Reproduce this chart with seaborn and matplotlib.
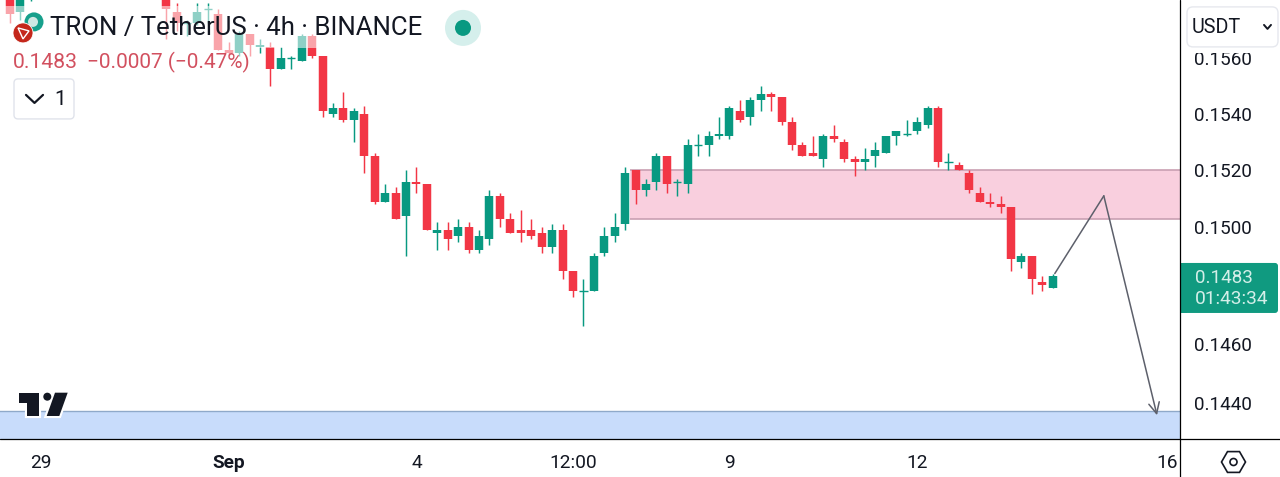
import matplotlib
matplotlib.use("Agg")
import matplotlib.pyplot as plt
import pandas as pd
import seaborn as sns
from matplotlib.patches import Rectangle, FancyBboxPatch, Circle, Polygon, RegularPolygon

# bar number, counted in 4h bars from Aug 29 00:00
bar_start = [-3, -2, -1]
bar_main = list(range(12, 98))
bars = bar_start + bar_main

opens = [0.1583, 0.1577, 0.1585,
         0.1586, 0.1577, 0.1573, 0.1573, 0.1578, 0.1576, 0.1563, 0.1562, 0.1569, 0.1564,
         0.1564, 0.1556, 0.1560, 0.1559, 0.1568, 0.1561, 0.1540, 0.1542, 0.1538, 0.1540,
         0.1525, 0.1509, 0.1512, 0.1504, 0.1516, 0.1515, 0.1498, 0.1499, 0.1497, 0.1500,
         0.1492, 0.1496, 0.1511, 0.1503, 0.1499, 0.1499, 0.1498, 0.1493, 0.1499, 0.1485,
         0.1478, 0.1478, 0.1491, 0.1497, 0.1501, 0.1520, 0.1513, 0.1516, 0.1525, 0.1516,
         0.1515, 0.1529, 0.1529, 0.1532, 0.1532, 0.1541, 0.1539, 0.1545, 0.1547, 0.1546,
         0.1537, 0.1529, 0.1526, 0.1524, 0.1532, 0.1530, 0.1524, 0.1523, 0.1525, 0.1526,
         0.1532, 0.1533, 0.1534, 0.1536, 0.1542, 0.1523, 0.1522, 0.1519, 0.1512, 0.1509,
         0.1508, 0.1507, 0.1488, 0.1490, 0.1481, 0.1479]
closes = [0.1576, 0.1585, 0.1590,
          0.1578, 0.1573, 0.1573, 0.1577, 0.1578, 0.1563, 0.1562, 0.1569, 0.1565, 0.1565,
          0.1556, 0.1560, 0.1560, 0.1568, 0.1561, 0.1541, 0.1542, 0.1538, 0.1541, 0.1525,
          0.1509, 0.1512, 0.1503, 0.1516, 0.1515, 0.1499, 0.1499, 0.1496, 0.1500, 0.1492,
          0.1497, 0.1511, 0.1503, 0.1498, 0.1498, 0.1497, 0.1493, 0.1499, 0.1485, 0.1478,
          0.1478, 0.1490, 0.1497, 0.1500, 0.1519, 0.1513, 0.1515, 0.1525, 0.1515, 0.1516,
          0.1529, 0.1529, 0.1532, 0.1533, 0.1542, 0.1538, 0.1545, 0.1547, 0.1546, 0.1537,
          0.1529, 0.1525, 0.1525, 0.1532, 0.1531, 0.1524, 0.1523, 0.1524, 0.1527, 0.1532,
          0.1534, 0.1533, 0.1537, 0.1542, 0.1523, 0.1523, 0.1520, 0.1513, 0.1509, 0.1508,
          0.1507, 0.1489, 0.1490, 0.1482, 0.1480, 0.1483]
highs = [0.1585, 0.1585, 0.1590,
         0.1590, 0.1580, 0.1574, 0.1580, 0.1580, 0.1578, 0.1566, 0.1570, 0.1569, 0.1567,
         0.1566, 0.1564, 0.1561, 0.1569, 0.1569, 0.1561, 0.1544, 0.1548, 0.1542, 0.1543,
         0.1526, 0.1515, 0.1514, 0.1520, 0.1521, 0.1515, 0.1502, 0.1502, 0.1503, 0.1502,
         0.1499, 0.1513, 0.1512, 0.1505, 0.1506, 0.1503, 0.1500, 0.1501, 0.1501, 0.1485,
         0.1482, 0.1491, 0.1500, 0.1505, 0.1521, 0.1520, 0.1517, 0.1526, 0.1525, 0.1517,
         0.1531, 0.1533, 0.1534, 0.1539, 0.1543, 0.1545, 0.1546, 0.1550, 0.1548, 0.1546,
         0.1539, 0.1530, 0.1532, 0.1533, 0.1536, 0.1531, 0.1525, 0.1528, 0.1530, 0.1532,
         0.1534, 0.1538, 0.1539, 0.1543, 0.1543, 0.1526, 0.1523, 0.1520, 0.1514, 0.1512,
         0.1511, 0.1507, 0.1491, 0.1490, 0.1483, 0.1484]
lows = [0.1573, 0.1574, 0.1581,
        0.1567, 0.1570, 0.1568, 0.1572, 0.1573, 0.1563, 0.1561, 0.1561, 0.1561, 0.1562,
        0.1550, 0.1556, 0.1556, 0.1559, 0.1560, 0.1539, 0.1539, 0.1537, 0.1530, 0.1519,
        0.1508, 0.1509, 0.1503, 0.1490, 0.1512, 0.1499, 0.1492, 0.1492, 0.1495, 0.1491,
        0.1491, 0.1494, 0.1500, 0.1498, 0.1495, 0.1496, 0.1491, 0.1491, 0.1482, 0.1476,
        0.1466, 0.1478, 0.1490, 0.1495, 0.1499, 0.1508, 0.1511, 0.1513, 0.1512, 0.1511,
        0.1512, 0.1525, 0.1525, 0.1531, 0.1531, 0.1537, 0.1536, 0.1541, 0.1541, 0.1536,
        0.1527, 0.1525, 0.1525, 0.1521, 0.1530, 0.1523, 0.1518, 0.1520, 0.1521, 0.1526,
        0.1529, 0.1532, 0.1533, 0.1535, 0.1521, 0.1520, 0.1520, 0.1512, 0.1509, 0.1507,
        0.1505, 0.1485, 0.1486, 0.1477, 0.1478, 0.1479]

zone_sell = [0.1503, 0.1520]
zone_buy_top = 0.14375
path_bar = [97.2, 101.9, 107.0]
path_price = [0.1484, 0.1511, 0.1436]

price_ticks = [0.1440, 0.1460, 0.1500, 0.1520, 0.1540, 0.1560]
price_labels = ["0.1440", "0.1460", "0.1500", "0.1520", "0.1540", "0.1560"]
time_ticks = [0, 18, 36, 51, 66, 84, 108]
time_labels = ["29", "Sep", "4", "12:00", "9", "12", "16"]

GREEN = "#089981"
RED = "#f23645"
INK = "#131722"

sns.set_theme(style="white")
plt.rcParams["font.family"] = ["Roboto", "DejaVu Sans"]

df = pd.DataFrame({"bar": bars, "open": opens, "close": closes, "high": highs, "low": lows})
df["dir"] = ["up" if c >= o else "down" for o, c in zip(df["open"], df["close"])]
palette = {"up": GREEN, "down": RED}

wicks = df.melt(id_vars=["bar", "dir"], value_vars=["low", "high"], value_name="price")
bodies = df.melt(id_vars=["bar", "dir"], value_vars=["open", "close"], value_name="price")
flat = df[df["open"] == df["close"]]

fig = plt.figure(figsize=(12.8, 4.771), dpi=100)
ax = fig.add_axes([0, 38 / 477, 1180 / 1280, 439 / 477])
ax.set_yscale("log")

# zones go under the candles
ax.add_patch(Rectangle((56.5, zone_sell[0]), 60, zone_sell[1] - zone_sell[0], fc="#f9cfde", ec="none", zorder=1))
ax.hlines(zone_sell, 56.5, 120, color="#c99fb2", lw=1.2, zorder=1.5)
ax.add_patch(Rectangle((-10, 0.14), 130, zone_buy_top - 0.14, fc="#c8dcfb", ec="none", zorder=1))
ax.hlines(zone_buy_top, -10, 120, color="#8fa9c9", lw=1, zorder=1.5)

sns.lineplot(data=wicks, x="bar", y="price", hue="dir", palette=palette, units="bar", estimator=None,
             sort=False, lw=1.05, legend=False, ax=ax, solid_capstyle="butt", zorder=3)
sns.lineplot(data=bodies, x="bar", y="price", hue="dir", palette=palette, units="bar", estimator=None,
             sort=False, lw=6.1, legend=False, ax=ax, solid_capstyle="butt", zorder=4)
sns.scatterplot(data=flat, x="bar", y="close", hue="dir", palette=palette, marker="_", s=36, linewidth=1.0,
                legend=False, ax=ax, zorder=4)

# drawn path with the arrow at its end
sns.lineplot(x=path_bar[:2], y=path_price[:2], color="#5d606b", lw=1.1, sort=False, ax=ax, zorder=5, errorbar=None)
ax.annotate("", xy=(path_bar[2], path_price[2]), xytext=(path_bar[1], path_price[1]), zorder=5,
            arrowprops=dict(arrowstyle="->,head_length=0.65,head_width=0.32", color="#5d606b", lw=1.1,
                            shrinkA=0, shrinkB=0))

ax.set_xlim(-41 / 10.43, 1139 / 10.43)
ax.set_ylim(0.14281, 0.15813)
ax.set_xlabel("")
ax.set_ylabel("")
ax.minorticks_off()
ax.yaxis.tick_right()
ax.set_yticks(price_ticks)
ax.set_yticklabels(price_labels, fontsize=13.6, color=INK)
ax.set_xticks(time_ticks)
ax.set_xticklabels(time_labels, fontsize=13.8, color=INK)
ax.get_xticklabels()[1].set_fontweight("bold")
ax.tick_params(axis="y", length=0, pad=10)
ax.tick_params(axis="x", length=0, pad=10.5)
for s in ax.spines.values():
    s.set_visible(False)

# everything on top of the chart is placed in picture pixels
ov = fig.add_axes([0, 0, 1, 1], zorder=10)
ov.set_xlim(0, 1280)
ov.set_ylim(477, 0)
ov.axis("off")
ov.patch.set_alpha(0)

# washed out strip behind the legend text
ov.add_patch(Rectangle((0, 6), 430, 42, fc="white", alpha=0.55, ec="none"))
ov.add_patch(Rectangle((0, 48), 252, 27, fc="white", alpha=0.55, ec="none"))

ov.plot([1180, 1180], [0, 477], color="#000000", lw=0.9)
ov.plot([0, 1280], [439, 439], color="#000000", lw=0.9)

ov.add_patch(Circle((34, 22), 9.5, fc="#17a08c", ec="none"))
ov.add_patch(Circle((33, 22), 5, fc="#cfe8e3", ec="none"))
ov.add_patch(Circle((23, 33), 10, fc="#c4271b", ec="white", lw=0.6))
ov.add_patch(Polygon([(18, 28), (29, 31), (23, 39)], fc="none", ec="white", lw=1))

ov.text(50, 27.5, "TRON / TetherUS · 4h · BINANCE", fontsize=18.5, color=INK, va="center")
ov.add_patch(Circle((463, 28), 18, fc="#d5efec", ec="none"))
ov.add_patch(Circle((463, 28), 8, fc=GREEN, ec="none"))

ov.text(13, 62.5, "0.1483", fontsize=15.2, color="#d2505f", va="center")
ov.text(87, 62.5, "−0.0007 (−0.47%)", fontsize=15, color="#d2505f", va="center")

ov.add_patch(FancyBboxPatch((14, 79), 60, 40, boxstyle="round,pad=0,rounding_size=4", fc="white", ec="#e0e3eb", lw=1))
ov.plot([26, 34.5, 43], [95, 103, 95], color=INK, lw=1.6)
ov.text(60, 99, "1", fontsize=15, color=INK, va="center", ha="center")

ov.add_patch(Rectangle((1181, 0), 99, 53, fc="white", ec="none"))
ov.add_patch(FancyBboxPatch((1187, 7), 91, 40, boxstyle="round,pad=0,rounding_size=6", fc="white", ec="#e6e8ee", lw=1))
ov.text(1192, 27, "USDT", fontsize=14.2, color=INK, va="center")
ov.plot([1264, 1267.5, 1271], [25, 29, 25], color=INK, lw=1.4)

ov.add_patch(FancyBboxPatch((1180, 263), 98, 50, boxstyle="round,pad=0,rounding_size=3", fc="#109a80", ec="none"))
ov.add_patch(Rectangle((1180.5, 263), 6, 50, fc="#109a80", ec="none"))
ov.text(1195, 278, "0.1483", fontsize=13.6, color="#d4efe9", va="center")
ov.text(1195, 299, "01:43:34", fontsize=13.8, color="#d4efe9", va="center")

ov.add_patch(RegularPolygon((1233.5, 462), 6, radius=12, orientation=3.14159 / 2, fc="none", ec=INK, lw=1.2))
ov.add_patch(Circle((1233.5, 462), 3.5, fc="none", ec=INK, lw=1.2))

# tradingview mark
mark = [[(19.3, 392.7), (39.3, 392.7), (39.3, 416), (26.7, 416), (26.7, 403), (19.3, 403)],
        [(55, 392.7), (67.7, 392.7), (59.3, 416), (46.7, 416)]]
for pts in mark:
    ov.add_patch(Polygon(pts, fc="#131722", ec="white", lw=3, joinstyle="miter", zorder=6))
    ov.add_patch(Polygon(pts, fc="#131722", ec="none", zorder=7))
ov.add_patch(Circle((47.3, 396.7), 4, fc="#131722", ec="none", zorder=7))

fig.savefig("out.png", dpi=100)
